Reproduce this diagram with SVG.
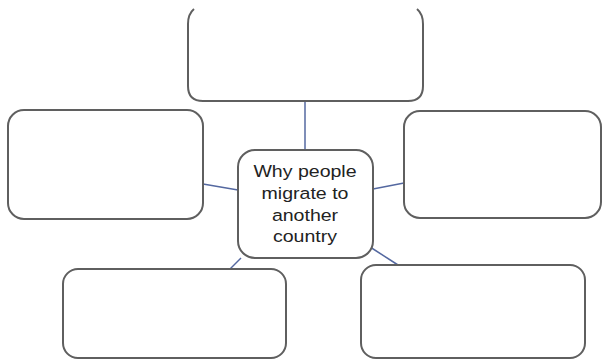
<svg xmlns="http://www.w3.org/2000/svg" width="603" height="360" viewBox="0 0 603 360">
<style>
.box{fill:#ffffff;stroke:#5f5f5f;stroke-width:2}
.conn{stroke:#5468a0;stroke-width:1.5;fill:none}
.lbl{font-family:"Liberation Sans",Arial,sans-serif;font-size:17px;fill:#222;text-anchor:middle}
</style>
<rect width="603" height="360" fill="#ffffff"/>
<g id="connectors">
<line class="conn" x1="305" y1="101" x2="305" y2="150"/>
<line class="conn" x1="203" y1="184" x2="238" y2="190"/>
<line class="conn" x1="373" y1="189" x2="404" y2="183"/>
<line class="conn" x1="230" y1="269" x2="241" y2="258"/>
<line class="conn" x1="367" y1="245" x2="398" y2="265"/>
</g>
<g id="top">
<path class="box" d="M194,9 Q188,14 188,24 L188,86 Q188,101 203,101 L408,101 Q423,101 423,86 L423,24 Q423,14 417,9"/>
</g>
<g id="left">
<rect class="box" x="8" y="110" width="195" height="109" rx="16"/>
</g>
<g id="right">
<rect class="box" x="404" y="111" width="197" height="107" rx="16"/>
</g>
<g id="bottomleft">
<rect class="box" x="63" y="269" width="223" height="89" rx="15"/>
</g>
<g id="bottomright">
<rect class="box" x="361" y="265" width="224" height="93" rx="15"/>
</g>
<g id="center">
<rect class="box" x="238" y="150" width="135" height="108" rx="17"/>
<g transform="translate(305,0) scale(1.15,1)">
<text class="lbl" x="0" y="177">Why people</text>
<text class="lbl" x="0" y="199">migrate to</text>
<text class="lbl" x="0" y="221">another</text>
<text class="lbl" x="0" y="242">country</text>
</g>
</g>
</svg>
